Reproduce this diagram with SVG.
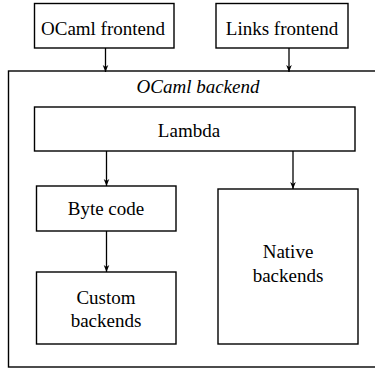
<svg xmlns="http://www.w3.org/2000/svg" width="375" height="370" viewBox="0 0 375 370">
<defs>
<marker id="arr" viewBox="0 0 10 10" refX="10" refY="5" markerWidth="7" markerHeight="7" markerUnits="userSpaceOnUse" orient="auto">
<path d="M0,1 L10,5 L0,9 L3,5 Z" fill="#000"/>
</marker>
</defs>
<style>
rect{fill:#fff;stroke:#000;stroke-width:1.4}
text{font-size:19px;fill:#000;text-anchor:middle}
.it{font-style:italic}
line{stroke:#000;stroke-width:1.3;marker-end:url(#arr)}
</style>
<rect width="375" height="370" style="stroke:none;fill:#fff"/>
<g font-family="Liberation Serif">
<g id="ocaml-backend"><rect x="8.5" y="71" width="380" height="296"/><text class="it" x="198" y="93">OCaml backend</text></g>
<g id="ocaml-frontend"><rect x="34.5" y="3.5" width="139.5" height="44.5"/><text x="103" y="35">OCaml frontend</text></g>
<g id="links-frontend"><rect x="216" y="3.5" width="132" height="44.5"/><text x="282" y="35">Links frontend</text></g>
<g id="lambda"><rect x="34.5" y="107" width="320.5" height="44"/><text x="189" y="136.5">Lambda</text></g>
<g id="byte-code"><rect x="36.5" y="186" width="139.5" height="45"/><text x="106" y="214.5">Byte code</text></g>
<g id="custom-backends"><rect x="36.5" y="272" width="139.5" height="72"/><text x="106" y="304">Custom</text><text x="106" y="327">backends</text></g>
<g id="native-backends"><rect x="218" y="189" width="140" height="155"/><text x="288" y="258">Native</text><text x="288" y="282">backends</text></g>
</g>
<g id="connectors">
<line x1="105.5" y1="48" x2="105.5" y2="72"/>
<line x1="289" y1="48" x2="289" y2="72"/>
<line x1="106.5" y1="151" x2="106.5" y2="186"/>
<line x1="293" y1="151" x2="293" y2="189"/>
<line x1="106.5" y1="231" x2="106.5" y2="272"/>
</g>
</svg>
